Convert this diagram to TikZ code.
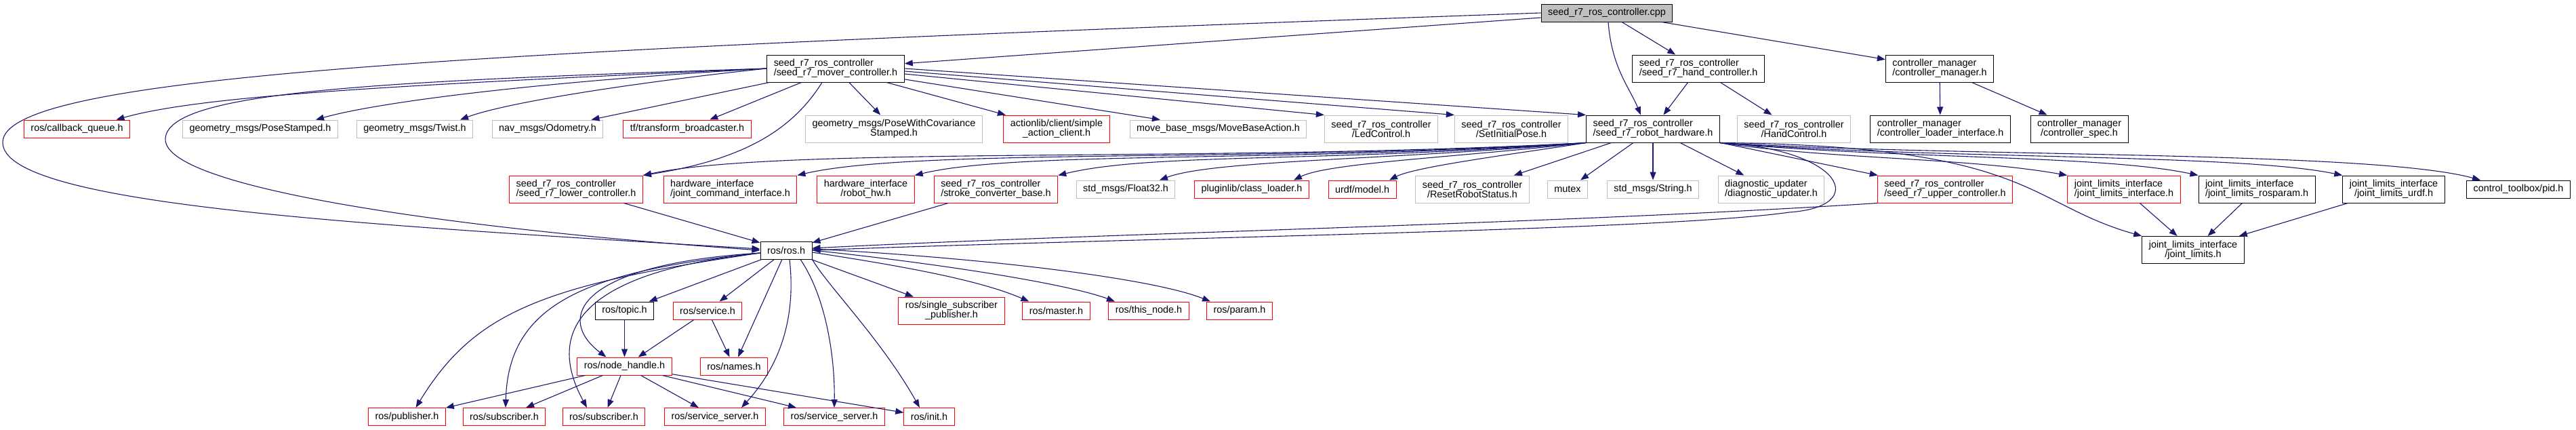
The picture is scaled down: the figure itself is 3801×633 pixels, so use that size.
\documentclass[tikz,border=0pt]{standalone}
\usepackage{fontspec}
\setmainfont{Liberation Sans}
\usetikzlibrary{arrows.meta}

\definecolor{edgeblue}{HTML}{191970}
\definecolor{extgray}{HTML}{BFBFBF}
\newcommand{\gfont}{\fontsize{14.4}{14}\selectfont\lineskiplimit=-10pt}

\begin{document}
\begin{tikzpicture}[x=1pt, y=-1pt,
    incl/.style={draw=black, fill=white, line width=1pt, font=\gfont, align=center,
                 inner xsep=10pt, inner ysep=0pt, minimum height=26pt},
    two/.style={minimum height=40pt},
    trunc/.style={incl, draw=red},
    ext/.style={incl, draw=extgray},
    dep/.style={draw=edgeblue, line width=1.1pt, -{Triangle[length=12pt,width=9pt]}}]

        % Page
        \path[fill=white] (0,0) rectangle (3801,633);
        \useasboundingbox (0,0) rectangle (3801,633);

        % Source file
        \node[incl, fill=extgray] (root) at (2371,19) {seed\_r7\_ros\_controller.cpp};

        % First level headers
        \node[incl, two, align=left] (mover) at (1233,101) {seed\_r7\_ros\_controller\\/seed\_r7\_mover\_controller.h};
        \node[incl, two, align=left] (hand) at (2506,101) {seed\_r7\_ros\_controller\\/seed\_r7\_hand\_controller.h};
        \node[incl, two, align=left] (cmgr) at (2862,101) {controller\_manager\\/controller\_manager.h};

        % Second row
        \node[trunc] (cbq) at (113.5,190) {ros/callback\_queue.h};
        \node[ext] (posest) at (384,190) {geometry\_msgs/PoseStamped.h};
        \node[ext] (twist) at (612,190) {geometry\_msgs/Twist.h};
        \node[ext] (odom) at (808,190) {nav\_msgs/Odometry.h};
        \node[trunc] (tfb) at (1014,190) {tf/transform\_broadcaster.h};
        \node[ext, two] (posecov) at (1319,190) {geometry\_msgs/PoseWithCovariance\\Stamped.h};
        \node[trunc, two] (actcl) at (1559,190) {actionlib/client/simple\\\_action\_client.h};
        \node[ext] (mvbase) at (1797.5,190) {move\_base\_msgs/MoveBaseAction.h};
        \node[ext, two] (led) at (2038,190) {seed\_r7\_ros\_controller\\/LedControl.h};
        \node[ext, two] (setpose) at (2230,190) {seed\_r7\_ros\_controller\\/SetInitialPose.h};
        \node[incl, two, align=left] (robhw) at (2439,190) {seed\_r7\_ros\_controller\\/seed\_r7\_robot\_hardware.h};
        \node[ext, two] (handctl) at (2647,190) {seed\_r7\_ros\_controller\\/HandControl.h};
        \node[incl, two, align=left] (cmload) at (2863,190) {controller\_manager\\/controller\_loader\_interface.h};
        \node[incl, two] (cmspec) at (3068,190) {controller\_manager\\/controller\_spec.h};

        % Third row
        \node[trunc, two, align=left] (lower) at (850,279) {seed\_r7\_ros\_controller\\/seed\_r7\_lower\_controller.h};
        \node[trunc, two, align=left] (jcmd) at (1077.5,279) {hardware\_interface\\/joint\_command\_interface.h};
        \node[trunc, two] (hwrobot) at (1277.5,279) {hardware\_interface\\/robot\_hw.h};
        \node[trunc, two, align=left] (stroke) at (1469.5,279) {seed\_r7\_ros\_controller\\/stroke\_converter\_base.h};
        \node[ext] (float32) at (1661,279) {std\_msgs/Float32.h};
        \node[trunc] (pluginlib) at (1847,279) {pluginlib/class\_loader.h};
        \node[trunc] (urdf) at (2010,279) {urdf/model.h};
        \node[ext, two] (reset) at (2172.5,279) {seed\_r7\_ros\_controller\\/ResetRobotStatus.h};
        \node[ext] (mutex) at (2313,279) {mutex};
        \node[ext] (string) at (2439,279) {std\_msgs/String.h};
        \node[ext, two, align=left] (diag) at (2613.5,279) {diagnostic\_updater\\/diagnostic\_updater.h};
        \node[trunc, two, align=left] (upper) at (2870,279) {seed\_r7\_ros\_controller\\/seed\_r7\_upper\_controller.h};
        \node[trunc, two, align=left] (jlintf) at (3134,279) {joint\_limits\_interface\\/joint\_limits\_interface.h};
        \node[incl, two, align=left] (jlros) at (3330,279) {joint\_limits\_interface\\/joint\_limits\_rosparam.h};
        \node[incl, two] (jlurdf) at (3532,279) {joint\_limits\_interface\\/joint\_limits\_urdf.h};
        \node[incl] (pid) at (3716,279) {control\_toolbox/pid.h};

        % ros/ros.h and joint limits
        \node[incl] (ros) at (1160,369) {ros/ros.h};
        \node[incl, two] (jlimits) at (3236,368.5) {joint\_limits\_interface\\/joint\_limits.h};

        % Below ros/ros.h
        \node[incl] (topic) at (921.5,458) {ros/topic.h};
        \node[trunc] (service) at (1044,458) {ros/service.h};
        \node[trunc, two] (ssp) at (1404,458) {ros/single\_subscriber\\\_publisher.h};
        \node[trunc] (master) at (1558.5,458) {ros/master.h};
        \node[trunc] (thisnode) at (1695,458) {ros/this\_node.h};
        \node[trunc] (param) at (1829,458) {ros/param.h};
        \node[trunc] (nhandle) at (921.5,540) {ros/node\_handle.h};
        \node[trunc] (names) at (1083,540) {ros/names.h};
        \node[trunc] (pub) at (600.5,614.5) {ros/publisher.h};
        \node[trunc] (sub1) at (744,614.5) {ros/subscriber.h};
        \node[trunc] (sub2) at (891,614.5) {ros/subscriber.h};
        \node[trunc] (srv1) at (1055,614.5) {ros/service\_server.h};
        \node[trunc] (srv2) at (1231,614.5) {ros/service\_server.h};
        \node[trunc] (init) at (1371,614.5) {ros/init.h};

        % Straight includes
        \foreach \a/\b in {root/mover, root/hand, root/cmgr, mover/odom, mover/tfb, mover/posecov,
                mover/actcl, mover/mvbase, hand/robhw, hand/handctl, cmgr/cmload, cmgr/cmspec,
                robhw/reset, robhw/mutex, robhw/string, robhw/diag, robhw/upper,
                jlintf/jlimits, jlros/jlimits, jlurdf/jlimits, lower/ros, stroke/ros,
                ros/topic, ros/service, ros/names, ros/ssp, topic/nhandle, service/nhandle,
                service/names, nhandle/pub, nhandle/sub1, nhandle/sub2, nhandle/srv1,
                nhandle/srv2, nhandle/init} {
            \draw[dep] (\a) -- (\b);
        }

        % Source file
        \draw[dep] (root.west) .. controls (700,75) and (4,110) .. (4,210)
            .. controls (4,300) and (500,330) .. ([yshift=2pt]ros.west);
        \draw[dep] ([xshift=2pt]root.south) .. controls (2378,100) and (2405,130) .. ([xshift=-18pt]robhw.north);

        % Mover controller
        \draw[dep] (mover.east) -- (robhw.north west);
        \draw[dep] ([yshift=-4pt]mover.east) -- (setpose.north west);
        \draw[dep] ([yshift=-8pt]mover.east) -- (led.north west);
        \draw[dep] (mover.west) .. controls (600,125) and (300,140) .. ([xshift=58pt]cbq.north);
        \draw[dep] (mover.west) .. controls (800,120) and (560,150) .. ([xshift=82pt]posest.north);
        \draw[dep] (mover.west) .. controls (950,120) and (750,150) .. ([xshift=67pt]twist.north);
        \draw[dep] (mover.west) .. controls (550,120) and (246,135) .. (244,205)
            .. controls (242,280) and (700,340) .. (ros.west);
        \draw[dep] ([xshift=-20pt]mover.south) .. controls (1170,190) and (1100,235) .. (lower.north east);

        % Robot hardware, left side
        \draw[dep] (robhw.south west) .. controls (1800,240) and (1150,215) .. (lower.north east);
        \draw[dep] (robhw.south west) .. controls (1850,240) and (1350,218) .. (jcmd.north east);
        \draw[dep] (robhw.south west) .. controls (1900,240) and (1500,222) .. (hwrobot.north east);
        \draw[dep] (robhw.south west) .. controls (1950,240) and (1700,225) .. (stroke.north east);
        \draw[dep] (robhw.south west) .. controls (2050,236) and (1790,236) .. ([xshift=50pt]float32.north);
        \draw[dep] (robhw.south west) .. controls (2150,232) and (1960,240) .. ([xshift=62pt]pluginlib.north);
        \draw[dep] (robhw.south west) .. controls (2250,225) and (2090,245) .. ([xshift=40pt]urdf.north);

        % Robot hardware, right side
        \draw[dep] (robhw.south east) .. controls (2700,235) and (2900,232) .. (jlintf.north west);
        \draw[dep] (robhw.south east) .. controls (2800,235) and (3100,228) .. (jlros.north west);
        \draw[dep] (robhw.south east) .. controls (2850,235) and (3300,226) .. (jlurdf.north west);
        \draw[dep] (robhw.south east) .. controls (2900,232) and (3500,222) .. ([xshift=-56pt]pid.north);
        \draw[dep] (robhw.south east) .. controls (3000,215) and (2990,300) .. (jlimits.north west);
        \draw[dep] (robhw.south east) .. controls (2720,220) and (2760,305) .. (2640,313)
            .. controls (2450,340) and (1700,350) .. (ros.east);
        \draw[dep] (upper.south west) .. controls (2300,330) and (1600,345) .. ([yshift=3pt]ros.east);

        % ros/ros.h
        \draw[dep] ([yshift=-4pt]ros.west) .. controls (850,390) and (820,470) .. ([xshift=-27pt]nhandle.north);
        \draw[dep] ([yshift=-4pt]ros.west) .. controls (800,420) and (700,460) .. ([xshift=13pt]pub.north);
        \draw[dep] ([yshift=-4pt]ros.west) .. controls (860,400) and (750,450) .. ([xshift=2pt]sub1.north);
        \draw[dep] ([yshift=-4pt]ros.west) .. controls (870,400) and (800,480) .. ([xshift=-25pt]sub2.north);
        \draw[dep] ([xshift=5pt]ros.south) .. controls (1175,470) and (1150,540) .. ([xshift=39pt]srv1.north);
        \draw[dep] ([xshift=21pt]ros.south) .. controls (1220,440) and (1232,530) .. (srv2.north);
        \draw[dep] (ros.south east) .. controls (1220,420) and (1300,500) .. ([xshift=-14pt]init.north);
        \draw[dep] ([yshift=-3pt]ros.east) .. controls (1350,395) and (1450,415) .. ([xshift=-40pt]master.north);
        \draw[dep] (ros.east) .. controls (1400,390) and (1580,420) .. ([xshift=-50pt]thisnode.north);
        \draw[dep] ([yshift=2pt]ros.east) .. controls (1450,380) and (1700,410) .. ([xshift=-43pt]param.north);

    \end{tikzpicture}
\end{document}
